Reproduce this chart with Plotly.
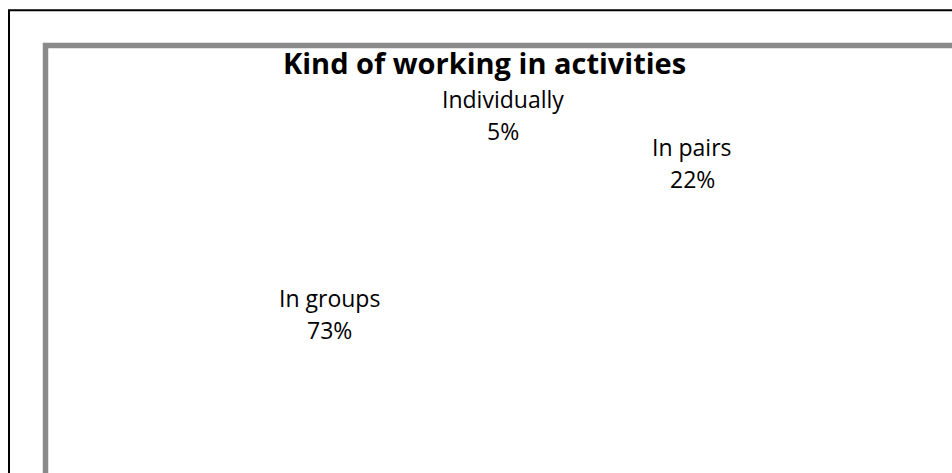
import plotly.graph_objects as go

# ---- data ----
categories = ["Individually", "In pairs", "In groups"]
values = [5, 22, 73]
title_text = "Kind of working in activities"

# ---- layout helpers (pixel positions of the label blocks, layout only) ----
W, H = 952, 473
label_centers = [(503, 99), (692, 147), (329, 298)]  # centre of the name line
line_gap = 32
FONT = "Open Sans"
LABEL_SIZE = 23
TITLE_SIZE = 29

def px(x):
    return x / W

def py(y):
    return 1 - y / H

total = sum(values)

fig = go.Figure()
fig.add_trace(go.Pie(
    labels=categories,
    values=values,
    sort=False,
    direction="clockwise",
    rotation=0,
    marker=dict(colors=["rgba(0,0,0,0)"] * len(values), line=dict(width=0)),
    textinfo="none",
    hovertemplate="%{label}: %{percent}<extra></extra>",
    showlegend=False,
    domain=dict(x=[0.2, 0.8], y=[0.05, 0.85]),
))

annotations = [
    dict(x=px(485), y=py(62), xref="paper", yref="paper",
         text="<b>" + title_text + "</b>", showarrow=False,
         xanchor="center", yanchor="middle", borderpad=0,
         font=dict(family=FONT, size=TITLE_SIZE, color="black"))
]
for (cx, cy), name, v in zip(label_centers, categories, values):
    pct = f"{round(100 * v / total)}%"
    annotations.append(dict(x=px(cx), y=py(cy), xref="paper", yref="paper",
                            text=name, showarrow=False, xanchor="center", yanchor="middle",
                            borderpad=0,
                            font=dict(family=FONT, size=LABEL_SIZE, color="black")))
    annotations.append(dict(x=px(cx), y=py(cy + line_gap), xref="paper", yref="paper",
                            text=pct, showarrow=False, xanchor="center", yanchor="middle",
                            borderpad=0,
                            font=dict(family=FONT, size=LABEL_SIZE, color="black")))

shapes = [
    # outer black border
    dict(type="rect", xref="paper", yref="paper",
         x0=px(9), y0=py(10.3), x1=px(1000), y1=py(520),
         line=dict(color="black", width=2), fillcolor="rgba(0,0,0,0)"),
    # grey chart frame
    dict(type="rect", xref="paper", yref="paper",
         x0=px(45.5), y0=py(45.5), x1=px(1000), y1=py(520),
         line=dict(color="#8a8a8a", width=5.5), fillcolor="rgba(0,0,0,0)"),
]

fig.update_layout(
    width=W, height=H,
    margin=dict(l=0, r=0, t=0, b=0),
    paper_bgcolor="white",
    plot_bgcolor="white",
    annotations=annotations,
    shapes=shapes,
    font=dict(family=FONT),
)

fig.write_html(
    "out.html",
    config={"displayModeBar": False},
    post_script="document.body.style.margin='0';document.body.style.overflow='hidden';",
)
